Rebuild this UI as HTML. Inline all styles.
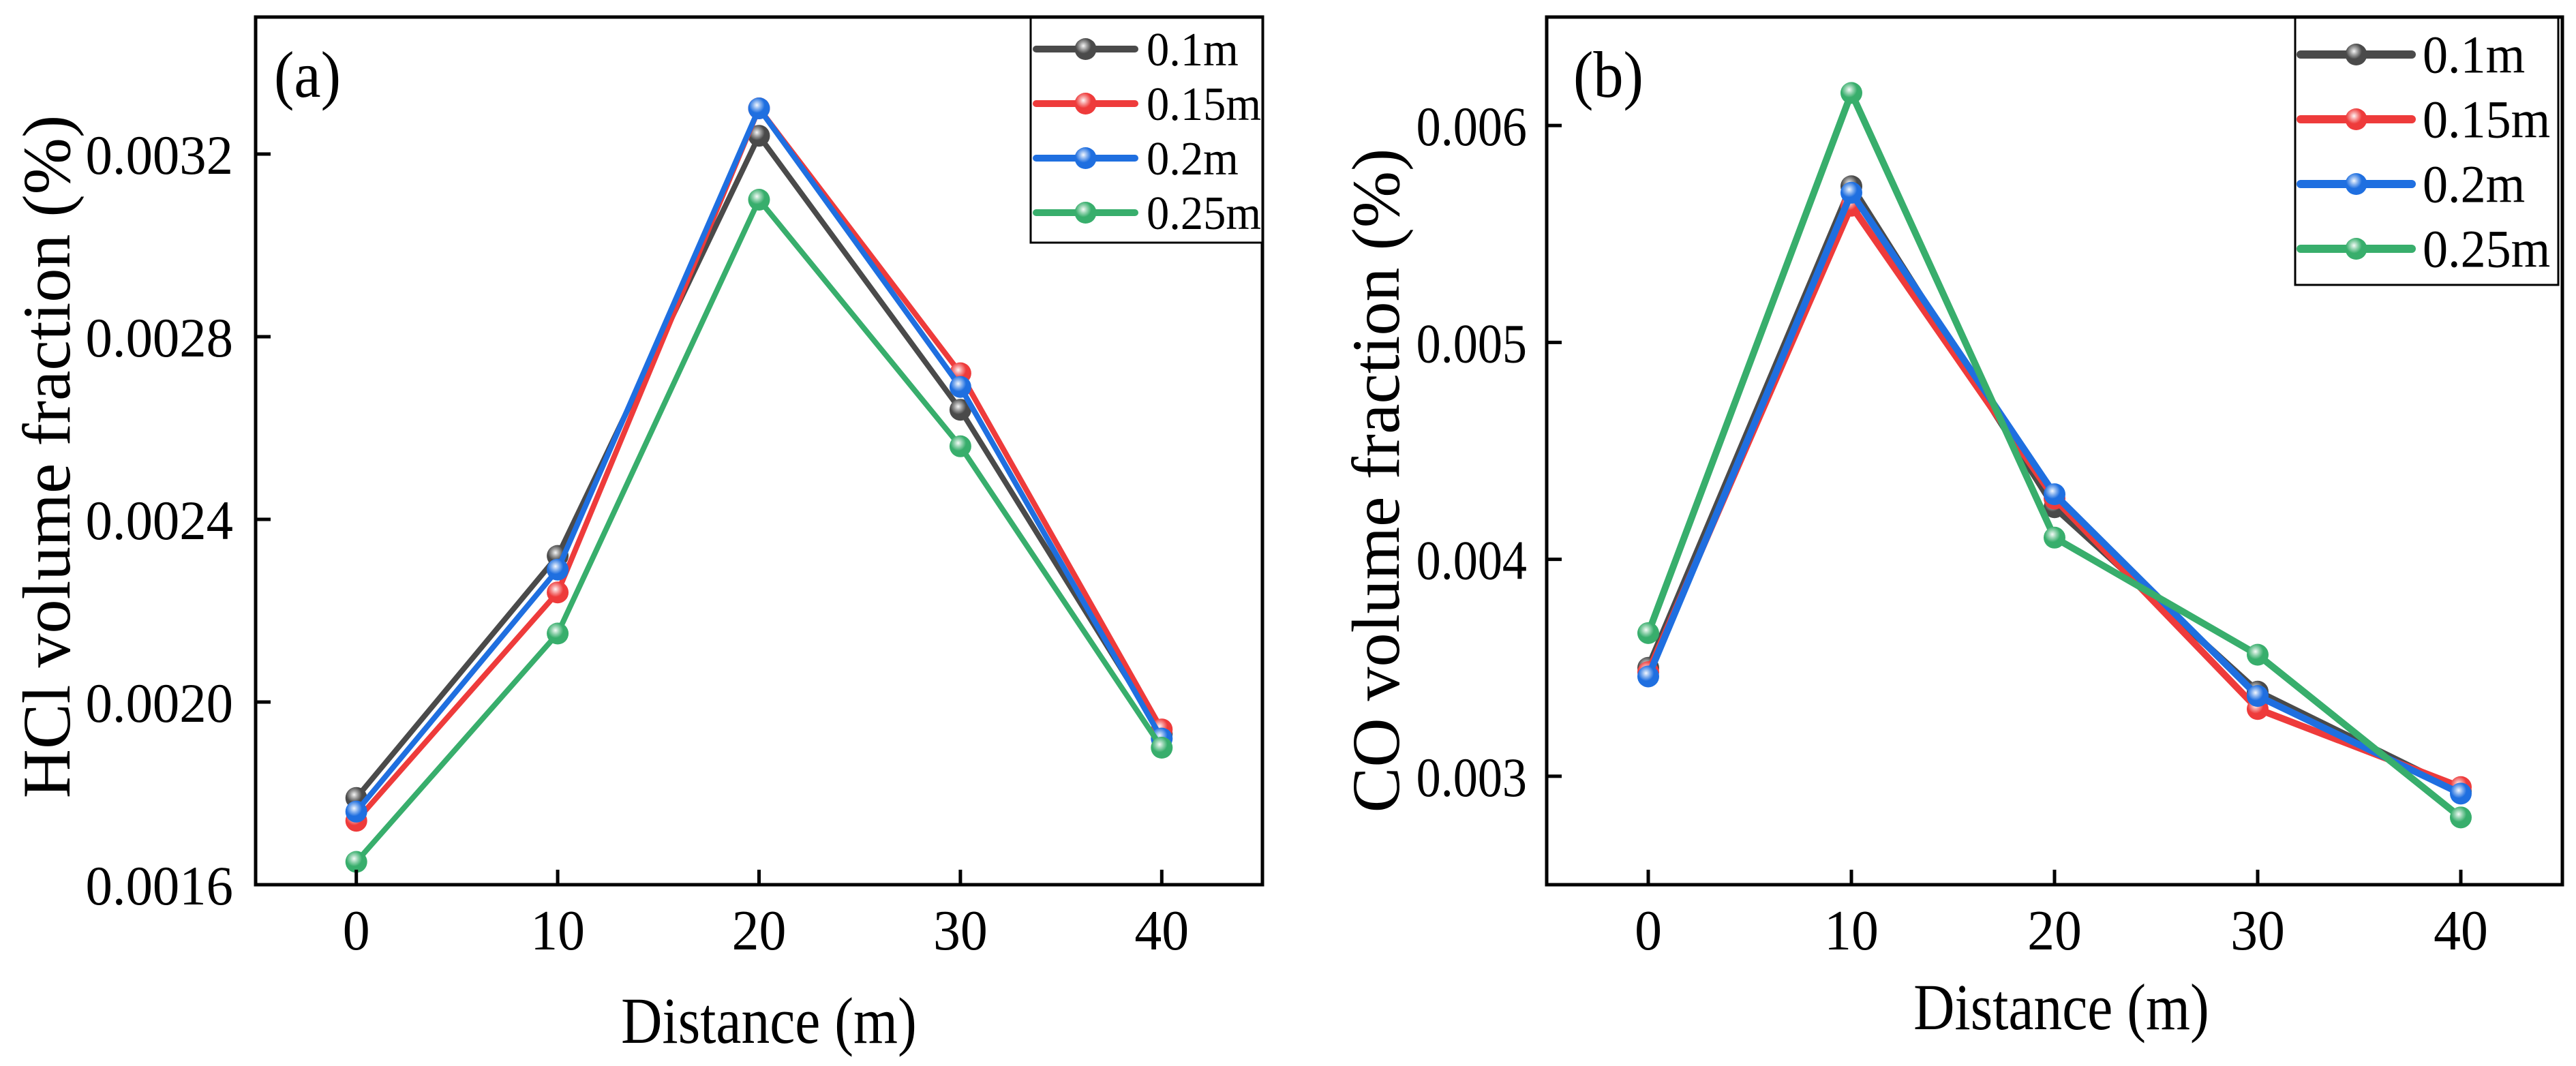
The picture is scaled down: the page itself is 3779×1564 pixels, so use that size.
<!DOCTYPE html>
<html><head><meta charset="utf-8">
<style>
html,body{margin:0;padding:0;background:#fff;}
svg{display:block;font-family:"Liberation Serif","Times New Roman",serif;}
</style></head>
<body>
<svg id="fig" width="3779" height="1564" viewBox="0 0 3779 1564" xmlns="http://www.w3.org/2000/svg">
<defs>
<radialGradient id="hl" cx="0.4" cy="0.35" r="0.6">
<stop offset="0" stop-color="#fff" stop-opacity="0.95"/>
<stop offset="0.3" stop-color="#fff" stop-opacity="0.45"/>
<stop offset="0.6" stop-color="#fff" stop-opacity="0"/>
</radialGradient>
</defs>
</svg>
<script>
const distances = [0, 10, 20, 30, 40];
const seriesNames = ["0.1m", "0.15m", "0.2m", "0.25m"];
const seriesColors = ["#4a4a4a", "#ee3b3b", "#1f6fe0", "#38ae6c"];
const hclS1 = [0.00179, 0.00232, 0.00324, 0.00264, 0.00193];
const hclS2 = [0.00174, 0.00224, 0.00330, 0.00272, 0.00194];
const hclS3 = [0.00176, 0.00229, 0.00330, 0.00269, 0.00192];
const hclS4 = [0.00165, 0.00215, 0.00310, 0.00256, 0.00190];
const coS1 = [0.00350, 0.00572, 0.00424, 0.00339, 0.00293];
const coS2 = [0.00348, 0.00563, 0.00428, 0.00331, 0.00295];
const coS3 = [0.00346, 0.00569, 0.00430, 0.00337, 0.00292];
const coS4 = [0.00366, 0.00615, 0.00410, 0.00356, 0.00281];
const xTicks = [0, 10, 20, 30, 40];
const hclYTicks = [0.0016, 0.0020, 0.0024, 0.0028, 0.0032];
const hclYLabels = ["0.0016", "0.0020", "0.0024", "0.0028", "0.0032"];
const coYTicks = [0.003, 0.004, 0.005, 0.006];
const coYLabels = ["0.003", "0.004", "0.005", "0.006"];

const NS = "http://www.w3.org/2000/svg";
const svg = document.getElementById("fig");
function mk(tag, attrs, parent) {
  const e = document.createElementNS(NS, tag);
  for (const k in attrs) e.setAttribute(k, attrs[k]);
  (parent || svg).appendChild(e);
  return e;
}
function txt(parent, x, y, size, anchor, sx, content) {
  const t = mk("text", {x: 0, y: 0, "font-size": size, "text-anchor": anchor,
    transform: "translate(" + x + "," + y + ") scale(" + sx + ",1)"}, parent);
  t.textContent = content;
  return t;
}

function drawPanel(cfg) {
  const g = mk("g", {});
  
  
  const L = cfg.left, R = cfg.right, T = 25, B = 1298;
  const xs = v => L + (v - (-5)) / 50 * (R - L);
  const ys = v => B - (v - cfg.ymin) / (cfg.ymax - cfg.ymin) * (B - T);

  cfg.series.forEach((vals, si) => {
    const sg = mk("g", {}, g);
    
    
    const pts = vals.map((v, i) => xs(distances[i]) + "," + ys(v)).join(" ");
    const pl = mk("polyline", {points: pts, fill: "none", stroke: seriesColors[si], "stroke-width": cfg.lw, "stroke-linejoin": "round"}, sg);
    
    
    vals.forEach((v, i) => {
      const c = mk("circle", {cx: xs(distances[i]), cy: ys(v), r: 16, fill: seriesColors[si]}, sg);
      
      
      mk("circle", {cx: xs(distances[i]), cy: ys(v), r: 16, fill: "url(#hl)"}, sg);
    });
  });

  const fr = mk("rect", {x: L, y: T, width: R - L, height: B - T, fill: "none", stroke: "#000", "stroke-width": 5}, g);
  
  

  xTicks.forEach(t => {
    const x = xs(t);
    const tk = mk("line", {x1: x, y1: B, x2: x, y2: B - 22, stroke: "#000", "stroke-width": 5}, g);
    
    
    const tx = txt(g, x, 1393, 84, "middle", 0.95, String(t));
    
    
  });
  cfg.yTicks.forEach((t, i) => {
    const y = ys(t);
    const tk = mk("line", {x1: L, y1: y, x2: L + 22, y2: y, stroke: "#000", "stroke-width": 5}, g);
    
    
    const tx = txt(g, L - cfg.yLabGap, y + 29, 82, "end", cfg.yLabSx, cfg.yLabels[i]);
    
    
  });

  const xt = txt(g, cfg.xtX, cfg.xtY, 96, "middle", 0.87, "Distance (m)");
  
  
  const yt = mk("text", {x: 0, y: 0, "font-size": 100, "text-anchor": "middle", transform: "translate(" + cfg.ytX + "," + cfg.ytY + ") rotate(-90)"}, g);
  yt.textContent = cfg.ytitle;
  
  
  const pl = txt(g, cfg.plX, 142, 96, "start", 0.92, cfg.panelLabel);
  
  

  const lg = mk("g", {}, g);
  
  
  const lb = mk("rect", {x: cfg.lgL, y: 26, width: cfg.lgR - cfg.lgL, height: cfg.lgB - 26, fill: "#fff", stroke: "#000", "stroke-width": 3}, lg);
  
  
  seriesNames.forEach((n, si) => {
    const y = cfg.lgY0 + si * cfg.lgDy;
    const eg = mk("g", {}, lg);
    
    
    mk("line", {x1: cfg.lgL + 8, y1: y, x2: cfg.lgLineEnd, y2: y, stroke: seriesColors[si], "stroke-width": cfg.lw + 2, "stroke-linecap": "round"}, eg);
    const mx = (cfg.lgL + 8 + cfg.lgLineEnd) / 2;
    mk("circle", {cx: mx, cy: y, r: 16, fill: seriesColors[si]}, eg);
    mk("circle", {cx: mx, cy: y, r: 16, fill: "url(#hl)"}, eg);
    txt(eg, cfg.lgTextX, y + cfg.lgFont * 0.34, cfg.lgFont, "start", 0.95, n);
  });
}

drawPanel({
  name: "hcl-chart", left: 375, right: 1852, ymin: 0.0016, ymax: 0.0035, lw: 8,
  series: [hclS1, hclS2, hclS3, hclS4], yTicks: hclYTicks, yLabels: hclYLabels,
  yLabGap: 33, yLabSx: 0.96,
  xtX: 1128, xtY: 1530, ytX: 102, ytY: 670, ytitle: "HCl volume fraction (%)",
  plX: 402, panelLabel: "(a)",
  lgL: 1512, lgR: 1852, lgB: 356, lgY0: 72, lgDy: 80, lgLineEnd: 1665, lgTextX: 1682, lgFont: 70
});
drawPanel({
  name: "co-chart", left: 2269, right: 3759, ymin: 0.0025, ymax: 0.0065, lw: 10,
  series: [coS1, coS2, coS3, coS4], yTicks: coYTicks, yLabels: coYLabels,
  yLabGap: 29, yLabSx: 0.88,
  xtX: 3024, xtY: 1510, ytX: 2052, ytY: 705, ytitle: "CO volume fraction (%)",
  plX: 2308, panelLabel: "(b)",
  lgL: 3367, lgR: 3753, lgB: 418, lgY0: 80, lgDy: 95, lgLineEnd: 3538, lgTextX: 3554, lgFont: 78
});
</script>
</body></html>
